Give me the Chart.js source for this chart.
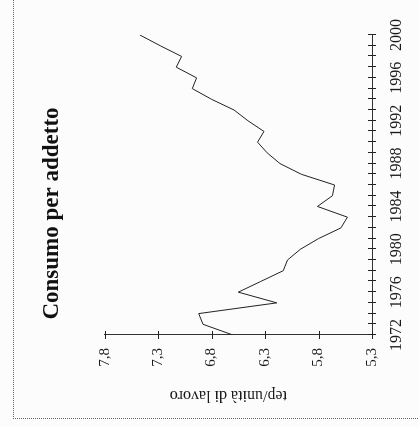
<!DOCTYPE html>
<html>
<head>
<meta charset="utf-8">
<script src="https://cdn.jsdelivr.net/npm/chart.js@4"></script>
<style>
    html, body { margin: 0; padding: 0; background: #fcfcfc; }
    body { width: 418px; height: 427px; overflow: hidden; position: relative; }
    /* the chart is drawn upright, then the whole sheet is turned a quarter left */
    #sheet {
        position: absolute; left: 0; top: 0;
        width: 427px; height: 418px;
        transform-origin: 0 0;
        transform: translate(0, 427px) rotate(-90deg);
    }
    #frame {
        position: absolute; left: 8px; top: 13px; right: 0; bottom: 0;
        border-top: 1px dotted #666; border-left: 1px dotted #666;
    }
    #chart { position: absolute; left: 0; top: 0; }
</style>
</head>
<body>
<div id="sheet">
    <div id="frame"></div>
    <canvas id="chart" width="427" height="418"></canvas>
</div>
<script>
const years = [1972, 1973, 1974, 1975, 1976, 1977, 1978, 1979, 1980, 1981,
               1982, 1983, 1984, 1985, 1986, 1987, 1988, 1989, 1990, 1991,
               1992, 1993, 1994, 1995, 1996, 1997, 1998, 1999, 2000];
const consumo = [6.60, 6.88, 6.92, 6.19, 6.55, 6.34, 6.13, 6.09, 5.97, 5.80,
                 5.59, 5.53, 5.81, 5.67, 5.65, 5.96, 6.16, 6.28, 6.37, 6.31,
                 6.46, 6.59, 6.80, 6.98, 6.94, 7.13, 7.08, 7.28, 7.47];
const valueTicks = [5.3, 5.8, 6.3, 6.8, 7.3, 7.8];
const yearLabels = [1972, 1976, 1980, 1984, 1988, 1992, 1996, 2000];

Chart.defaults.font.family = "'Liberation Serif', 'Times New Roman', serif";
Chart.defaults.color = '#1a1a1a';

// tick marks crossing both sides of each axis line
const crossTicks = {
    id: 'crossTicks',
    afterDraw(chart) {
        const ctx = chart.ctx;
        const xs = chart.scales.x, ys = chart.scales.y;
        ctx.save();
        ctx.strokeStyle = '#222';
        ctx.lineWidth = 1;
        ctx.beginPath();
        xs.ticks.forEach(t => {
            const px = Math.round(xs.getPixelForValue(t.value)) + 0.5;
            ctx.moveTo(px, xs.top - 4);
            ctx.lineTo(px, xs.top + 4);
        });
        ys.ticks.forEach(t => {
            const py = Math.round(ys.getPixelForValue(t.value)) + 0.5;
            ctx.moveTo(ys.right - 4, py);
            ctx.lineTo(ys.right + 4, py);
        });
        ctx.stroke();
        ctx.restore();
    }
};

new Chart(document.getElementById('chart'), {
    type: 'line',
    data: {
        datasets: [{
            data: years.map((y, i) => ({ x: y, y: consumo[i] })),
            borderColor: '#222',
            borderWidth: 1,
            pointRadius: 0,
            tension: 0,
            fill: false
        }]
    },
    options: {
        responsive: false,
        animation: false,
        devicePixelRatio: 1,
        layout: { padding: 0 },
        plugins: {
            legend: { display: false },
            tooltip: { enabled: false },
            title: {
                display: true,
                text: 'Consumo per addetto',
                color: '#111',
                font: { size: 23, weight: 'bold' },
                padding: { top: 38, bottom: 39 }
            }
        },
        scales: {
            x: {
                type: 'linear',
                min: 1972,
                max: 2000,
                afterBuildTicks: s => { s.ticks = years.map(v => ({ value: v })); },
                afterFit: s => { s.height = 46; },
                grid: { display: false, drawTicks: false },
                border: { display: true, color: '#333', width: 1 },
                ticks: {
                    autoSkip: false,
                    maxRotation: 0,
                    padding: 15,
                    font: { size: 16 },
                    callback: v => yearLabels.includes(v) ? String(v) : ''
                }
            },
            y: {
                type: 'linear',
                min: 5.3,
                max: 7.8,
                afterBuildTicks: s => { s.ticks = valueTicks.map(v => ({ value: v })); },
                afterFit: s => { s.width = 92; },
                grid: { display: false, drawTicks: false },
                border: { display: true, color: '#333', width: 1 },
                ticks: {
                    padding: 13,
                    font: { size: 15 },
                    callback: v => v.toFixed(1).replace('.', ',')
                },
                title: {
                    display: true,
                    // leading spaces nudge the title a little off centre, as in the original
                    text: '     tep/unità di lavoro',
                    font: { size: 16 },
                    padding: { top: 22, bottom: 0 }
                }
            },
            y2: {
                type: 'linear',
                position: 'right',
                display: true,
                afterFit: s => { s.width = 35; },
                grid: { display: false, drawTicks: false },
                border: { display: false },
                ticks: { display: false }
            }
        }
    },
    plugins: [crossTicks]
});
</script>
</body>
</html>
